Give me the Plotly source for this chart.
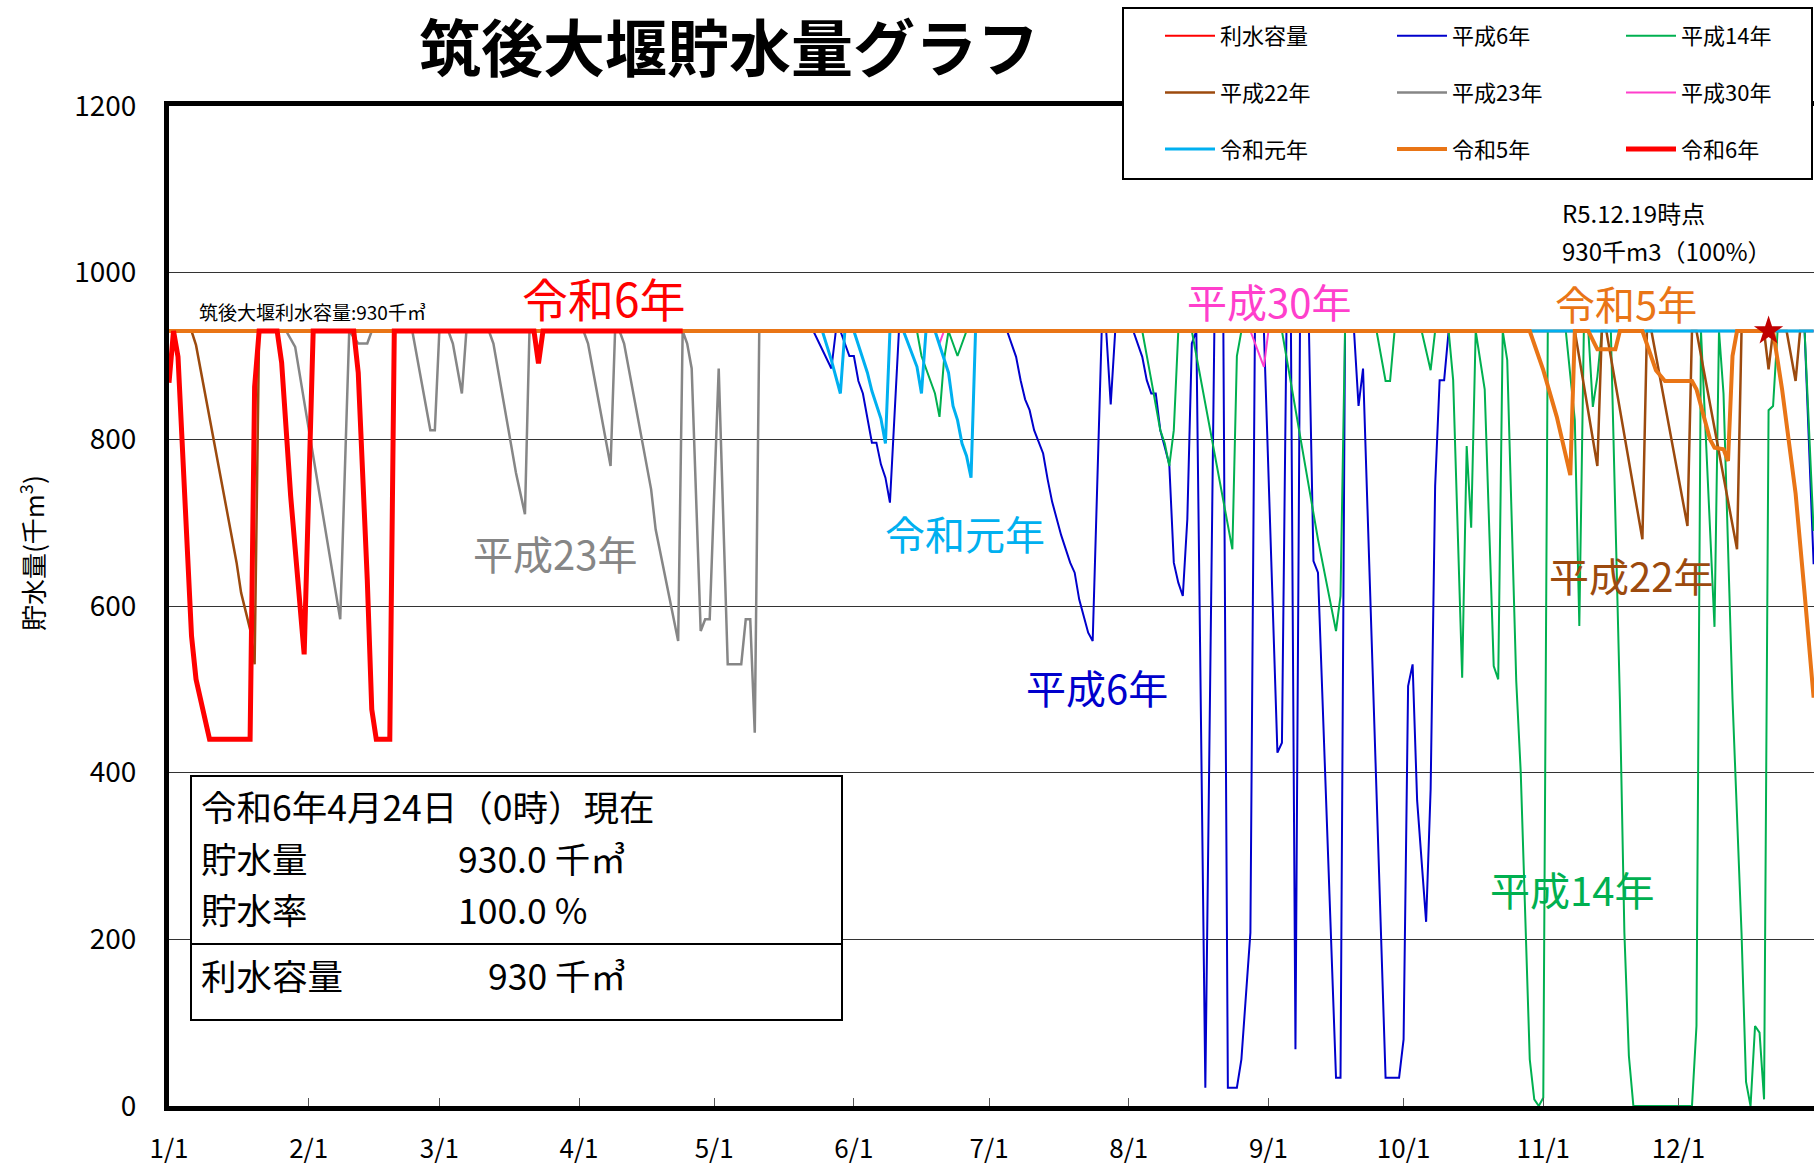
import pandas as pd
import plotly.graph_objects as go

YEAR = 2024
FONT = "Noto Sans CJK JP, Noto Sans, sans-serif"

# ---------------- data ----------------
month_ticks = ["1/1", "2/1", "3/1", "4/1", "5/1", "6/1", "7/1", "8/1", "9/1", "10/1", "11/1", "12/1"]
y_ticks = [0, 200, 400, 600, 800, 1000, 1200]

capacity_dates = ["1/1", "12/31"]
capacity_vals = [930, 930]

h06_dates = ["1/1", "5/23", "5/27", "5/28", "5/29", "5/31", "6/1", "6/2", "6/3", "6/5", "6/6", "6/7", "6/8", "6/9",
             "6/11", "7/5", "7/7", "7/8", "7/9", "7/10", "7/11", "7/13", "7/14", "7/15", "7/17", "7/19", "7/20",
             "7/21", "7/22", "7/23", "7/24", "7/26", "7/27", "7/28", "7/29", "8/2", "8/4", "8/5", "8/6", "8/7",
             "8/8", "8/9", "8/10", "8/11", "8/12", "8/13", "8/14", "8/15", "8/16", "8/18", "8/20", "8/22", "8/23",
             "8/25", "8/26", "8/28", "8/29", "8/31", "9/3", "9/4", "9/5", "9/6", "9/7", "9/8", "9/10", "9/11",
             "9/12", "9/16", "9/17", "9/18", "9/20", "9/21", "9/22", "9/27", "9/30", "10/1", "10/2", "10/3",
             "10/4", "10/6", "10/7", "10/8", "10/9", "10/10", "10/11", "12/29", "12/30", "12/31"]
h06_vals = [930, 930, 885, 930, 930, 900, 900, 870, 855, 796, 796, 770, 754, 724,
            930, 930, 899, 871, 848, 835, 811, 783, 752, 725, 685, 652, 640,
            608, 588, 568, 558, 930, 930, 842, 930, 930, 899, 871, 855, 855,
            811, 790, 770, 652, 628, 612, 704, 915, 930, 22, 930, 930, 22,
            22, 56, 208, 930, 930, 424, 436, 930, 930, 68, 930, 930, 654,
            640, 34, 34, 930, 930, 840, 885, 34, 34, 80, 504, 530,
            367, 221, 380, 744, 871, 871, 930, 930, 790, 650]

h14_dates = ["1/1", "6/15", "6/16", "6/17", "6/19", "6/20", "6/21", "6/22", "6/24", "6/26", "8/4", "8/6", "8/8",
             "8/9", "8/10", "8/11", "8/12", "8/15", "8/24", "8/25", "8/26", "9/4", "9/12", "9/16", "9/17", "9/18",
             "9/25", "9/27", "9/28", "9/29", "10/5", "10/7", "10/8", "10/11", "10/12", "10/14", "10/15", "10/16",
             "10/17", "10/19", "10/21", "10/22", "10/23", "10/24", "10/26", "10/27", "10/29", "10/30", "10/31",
             "11/1", "11/2", "11/6", "11/8", "11/9", "11/10", "11/11", "11/12", "11/13", "11/14", "11/16",
             "11/18", "11/19", "11/20", "11/21", "12/4", "12/5", "12/6", "12/9", "12/10", "12/11", "12/13",
             "12/15", "12/16", "12/17", "12/18", "12/19", "12/20", "12/21", "12/22", "12/23", "12/29", "12/31"]
h14_vals = [930, 930, 900, 885, 855, 827, 895, 930, 900, 930, 930, 871, 811,
            795, 768, 811, 930, 930, 668, 900, 930, 930, 680, 570, 612, 930,
            930, 870, 870, 930, 930, 883, 930, 930, 871, 514, 792, 694,
            930, 860, 528, 512, 930, 895, 510, 400, 56, 8, 0,
            10, 930, 930, 823, 576, 930, 930, 839, 875, 930, 930,
            488, 208, 60, 0, 0, 96, 930, 575, 930, 855, 488,
            208, 29, 0, 96, 88, 8, 835, 840, 930, 930, 690]

h22_dates = ["1/1", "1/6", "1/7", "1/16", "1/17", "1/19", "1/20", "1/21", "11/8", "11/13", "11/14", "11/15",
             "11/23", "11/24", "11/25", "12/3", "12/4", "12/5", "12/14", "12/15", "12/20", "12/21", "12/22",
             "12/25", "12/27", "12/28", "12/31"]
h22_vals = [930, 930, 913, 652, 616, 572, 530, 930, 930, 768, 930, 930,
            680, 930, 930, 696, 930, 930, 668, 930, 930, 884, 930,
            930, 870, 930, 930]

h23_dates = ["1/1", "1/27", "1/29", "2/8", "2/10", "2/12", "2/14", "2/15", "2/24", "2/28", "2/29", "3/1", "3/3",
             "3/4", "3/6", "3/7", "3/12", "3/13", "3/18", "3/19", "3/20", "3/21", "4/2", "4/3", "4/8", "4/9",
             "4/10", "4/11", "4/17", "4/18", "4/23", "4/24", "4/25", "4/26", "4/28", "4/29", "4/30", "5/2",
             "5/4", "5/7", "5/8", "5/9", "5/10", "5/11", "12/31"]
h23_vals = [930, 930, 911, 584, 930, 915, 915, 930, 930, 811, 811, 930, 930,
            915, 855, 930, 930, 915, 760, 736, 710, 930, 930, 915, 768, 930,
            930, 915, 740, 692, 558, 930, 915, 885, 570, 584, 584, 885,
            530, 530, 584, 584, 448, 930, 930]

h30_dates = ["1/1", "6/19", "6/20", "6/21", "8/28", "8/31", "9/1", "12/31"]
h30_vals = [930, 930, 915, 930, 930, 887, 930, 930]

r01_dates = ["1/1", "5/25", "5/27", "5/29", "5/30", "6/1", "6/4", "6/5", "6/7", "6/8", "6/9", "6/12", "6/15",
             "6/16", "6/17", "6/19", "6/22", "6/23", "6/24", "6/25", "6/26", "6/27", "6/28", "12/31"]
r01_vals = [930, 930, 895, 855, 930, 930, 880, 858, 825, 795, 930, 930, 887,
            855, 930, 930, 880, 840, 823, 795, 780, 754, 930, 930]

r05_dates = ["1/1", "10/29", "11/1", "11/4", "11/7", "11/8", "11/11", "11/13", "11/17", "11/18", "11/23", "11/26",
             "11/28", "12/4", "12/5", "12/8", "12/9", "12/11", "12/12", "12/13", "12/14", "12/22", "12/24",
             "12/27", "12/29", "12/31"]
r05_vals = [930, 930, 883, 827, 757, 930, 930, 908, 908, 930, 930, 883,
            870, 870, 860, 800, 790, 788, 774, 900, 930, 930, 860,
            735, 615, 490]

r06_dates = ["1/1", "1/2", "1/3", "1/6", "1/7", "1/9", "1/10", "1/19", "1/20", "1/21", "1/25", "1/26", "1/28",
             "1/31", "2/2", "2/11", "2/12", "2/14", "2/15", "2/16", "2/19", "2/20", "3/22", "3/23", "3/24", "4/24"]
r06_vals = [868, 930, 899, 564, 512, 460, 440, 440, 863, 930, 930, 892, 732,
            542, 930, 930, 880, 632, 476, 440, 440, 930, 930, 891, 930, 930]

star_date = ["12/21"]
star_val = [930]


def to_dt(md):
    return pd.to_datetime([f"{YEAR}/{d}" for d in md], format="%Y/%m/%d")


# ---------------- geometry helpers (pixels -> paper) ----------------
W, H = 1814, 1167
L, T, R, B = 169, 106, 0, 61
PW, PH = W - L - R, H - T - B


def px(x):
    return (x - L) / PW


def py(y):
    return (H - B - y) / PH


# ---------------- traces ----------------
series = [
    ("利水容量", capacity_dates, capacity_vals, "#FF0000", 2, "legend"),
    ("平成6年", h06_dates, h06_vals, "#0000CC", 2, "legend2"),
    ("平成14年", h14_dates, h14_vals, "#00B050", 2, "legend3"),
    ("平成22年", h22_dates, h22_vals, "#9C4A0E", 2.5, "legend"),
    ("平成23年", h23_dates, h23_vals, "#868686", 2.5, "legend2"),
    ("平成30年", h30_dates, h30_vals, "#FF3FCC", 2, "legend3"),
    ("令和元年", r01_dates, r01_vals, "#00B0F0", 3, "legend"),
    ("令和5年", r05_dates, r05_vals, "#E97516", 4, "legend2"),
    ("令和6年", r06_dates, r06_vals, "#FF0000", 5, "legend3"),
]

fig = go.Figure()
for name, d, v, color, width, leg in series:
    fig.add_trace(go.Scatter(
        x=to_dt(d), y=v, name=name, mode="lines",
        line=dict(color=color, width=width),
        legend=leg, legendgroup=name,
    ))

fig.add_trace(go.Scatter(
    x=to_dt(star_date), y=star_val, mode="markers", showlegend=False,
    marker=dict(symbol="star", size=22, color="#C00000"),
))

# ---------------- annotations ----------------
ann = []


def text(x, y, s, size, color="black", xanchor="center", angle=0):
    ann.append(dict(x=px(x), y=py(y), xref="paper", yref="paper", text=s, showarrow=False,
                    xanchor=xanchor, yanchor="middle", textangle=angle,
                    font=dict(size=size, color=color, family=FONT)))


text(604, 297, "令和6年", 46, "#FF0000")
text(1269, 301, "平成30年", 40, "#FF3FCC")
text(1626, 303, "令和5年", 40, "#E97516")
text(555, 553, "平成23年", 40, "#868686")
text(965, 533, "令和元年", 40, "#00B0F0")
text(1097, 687, "平成6年", 40, "#0000CC")
text(1631, 575, "平成22年", 40, "#9C4A0E")
text(1572, 889, "平成14年", 40, "#00B050")
text(197, 311, "筑後大堰利水容量:930千㎥", 19, xanchor="left")
text(1560, 212, "R5.12.19時点", 24, xanchor="left")
text(1560, 250, "930千m3（100%）", 24, xanchor="left")
text(31, 553, "貯水量(千m<sup>3</sup>)", 26, angle=-90)

# information box
BOX = 35.5
text(199, 805, "令和6年4月24日（0時）現在", BOX, xanchor="left")
text(199, 857, "貯水量", BOX, xanchor="left")
text(456, 857, "930.0 千㎥", BOX, xanchor="left")
text(199, 909, "貯水率", BOX, xanchor="left")
text(456, 909, "100.0 %", BOX, xanchor="left")
text(199, 974, "利水容量", BOX, xanchor="left")
text(486, 974, "930 千㎥", BOX, xanchor="left")

# ---------------- shapes ----------------
shapes = [
    dict(type="rect", xref="paper", yref="paper", x0=px(1123), x1=px(1812), y0=py(179), y1=py(8),
         line=dict(color="black", width=2), fillcolor="white", layer="above"),
    dict(type="rect", xref="paper", yref="paper", x0=px(191), x1=px(842), y0=py(1020), y1=py(776),
         line=dict(color="black", width=2), fillcolor="white", layer="above"),
    dict(type="line", xref="paper", yref="paper", x0=px(191), x1=px(842), y0=py(944), y1=py(944),
         line=dict(color="black", width=2), layer="above"),
]

leg_common = dict(orientation="v", yanchor="top", xanchor="left", y=py(15),
                  bgcolor="rgba(0,0,0,0)", borderwidth=0, traceorder="grouped",
                  tracegroupgap=25, itemwidth=50, font=dict(size=22, family=FONT, color="black"))

fig.update_layout(
    width=W, height=H,
    margin=dict(l=L, r=R, t=T, b=B, autoexpand=False),
    paper_bgcolor="white", plot_bgcolor="white",
    font=dict(family=FONT, color="black"),
    title=dict(text="筑後大堰貯水量グラフ", xref="paper", yref="container", x=px(729), xanchor="center",
               y=1 - 50 / H, yanchor="middle",
               font=dict(size=62, family=FONT, color="black", weight="bold")),
    showlegend=True,
    legend=dict(x=px(1160), **leg_common),
    legend2=dict(x=px(1392), **leg_common),
    legend3=dict(x=px(1621), **leg_common),
    annotations=ann,
    shapes=shapes,
    xaxis=dict(type="date", range=[f"{YEAR}-01-01", f"{YEAR}-12-31 02:00"],
               tickvals=to_dt(month_ticks), ticktext=month_ticks,
               ticks="inside", ticklen=8, tickwidth=1, tickcolor="#555555",
               showline=True, linewidth=5, linecolor="black", mirror=True,
               showgrid=False, zeroline=False, ticklabelstandoff=16,
               tickfont=dict(size=26, family=FONT, color="black")),
    yaxis=dict(range=[0, 1200], tickvals=y_ticks, showline=True, linewidth=5, linecolor="black",
               showgrid=True, gridcolor="#333333", gridwidth=1, zeroline=False, ticks="",
               ticklabelstandoff=22, tickfont=dict(size=28, family=FONT, color="black")),
)

fig.write_html("out.html", config={"displayModeBar": False},
               post_script="document.body.style.margin='0';document.body.style.overflow='hidden';")
